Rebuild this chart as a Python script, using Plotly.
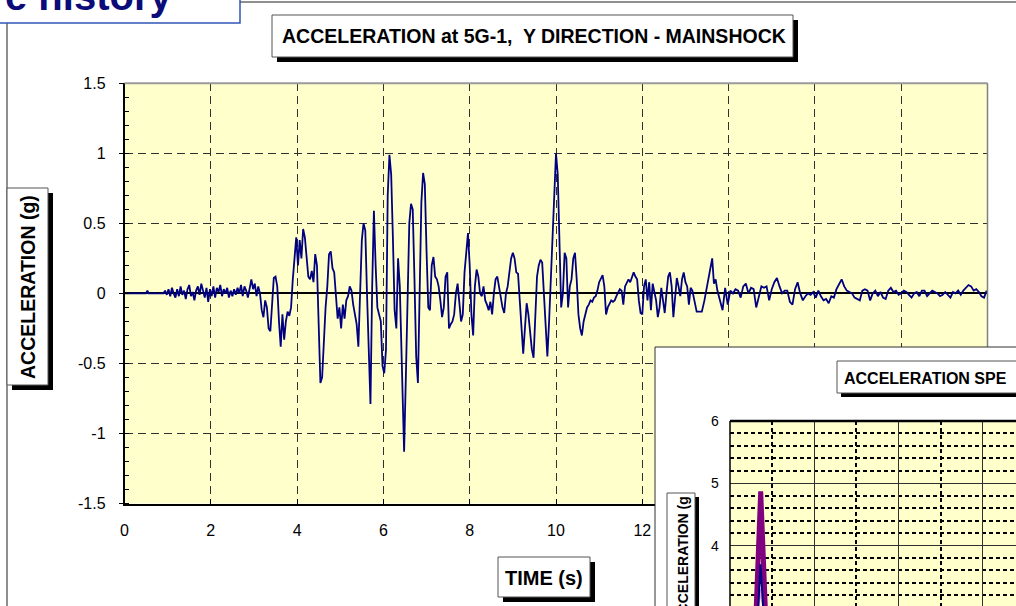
import plotly.graph_objects as go

W, H = 1016, 606

def px(x):
    return x / W

def py(y):
    return 1 - y / H

# ---------------- data ----------------
time_s = [
    0.00, 0.50, 0.53, 0.56, 0.90,
    0.94, 0.98, 1.02, 1.06, 1.10, 1.14, 1.18, 1.22, 1.26, 1.30, 1.34, 1.38, 1.42, 1.46, 1.50,
    1.54, 1.58, 1.62, 1.66, 1.70, 1.74, 1.78, 1.82, 1.86, 1.90, 1.94, 1.98, 2.02, 2.06, 2.10,
    2.14, 2.18, 2.22, 2.26, 2.30, 2.34, 2.38, 2.42, 2.46, 2.50, 2.54, 2.58, 2.62, 2.66, 2.70,
    2.74, 2.78, 2.82, 2.86, 2.90, 2.94, 2.98, 3.02, 3.06, 3.10, 3.14,
    3.18, 3.22, 3.26, 3.30, 3.34, 3.38, 3.42, 3.46, 3.50, 3.54, 3.58, 3.62, 3.66, 3.70, 3.74,
    3.78, 3.82, 3.86, 3.90, 3.94, 3.98, 4.02, 4.06, 4.10, 4.14, 4.18, 4.22, 4.26, 4.30, 4.34,
    4.38, 4.42, 4.46, 4.50, 4.54, 4.58, 4.62, 4.66, 4.70, 4.74, 4.78, 4.82, 4.86, 4.90, 4.94,
    4.98, 5.02, 5.06, 5.10, 5.14, 5.18, 5.22, 5.26, 5.30, 5.34, 5.38, 5.42, 5.46, 5.50, 5.54,
    5.58, 5.62, 5.66, 5.70, 5.74, 5.78, 5.82, 5.86, 5.90, 5.94, 5.98, 6.02, 6.06, 6.10, 6.14,
    6.18, 6.22, 6.26, 6.30, 6.34, 6.38, 6.42, 6.46, 6.48, 6.52, 6.56, 6.60, 6.64, 6.68, 6.72,
    6.76, 6.80, 6.84, 6.88, 6.92, 6.96, 7.00, 7.04, 7.08, 7.12, 7.16, 7.20, 7.24, 7.28, 7.32,
    7.36, 7.40, 7.44, 7.48, 7.52, 7.56, 7.60, 7.64, 7.68, 7.72, 7.76, 7.80, 7.84, 7.88, 7.92,
    7.96, 8.00, 8.04, 8.08, 8.12, 8.16, 8.20, 8.24, 8.28, 8.32, 8.36, 8.40, 8.44, 8.48, 8.52,
    8.56, 8.60, 8.64, 8.68, 8.72, 8.76, 8.80, 8.84, 8.88, 8.92, 8.96, 9.00, 9.04, 9.08, 9.12,
    9.16, 9.20, 9.24, 9.28, 9.32, 9.36, 9.40, 9.44, 9.48, 9.52, 9.56, 9.60, 9.64, 9.68, 9.72,
    9.76, 9.80, 9.84, 9.88, 9.92, 9.96, 10.00, 10.04, 10.08, 10.12, 10.16, 10.20, 10.24, 10.28,
    10.32, 10.36, 10.40, 10.44, 10.48, 10.52, 10.56, 10.60, 10.64, 10.68, 10.72, 10.76, 10.80,
    10.84, 10.88, 10.92, 10.96, 11.00, 11.04, 11.08, 11.12, 11.16, 11.20, 11.24, 11.28, 11.32,
    11.36, 11.40, 11.44, 11.48, 11.52, 11.56, 11.60, 11.64, 11.68, 11.72, 11.76, 11.80, 11.84,
    11.88, 11.92, 11.96, 12.00, 12.04, 12.08, 12.12, 12.16, 12.20, 12.24, 12.28, 12.32, 12.36,
    12.40, 12.44, 12.48, 12.52, 12.56, 12.60, 12.64, 12.68, 12.72, 12.76, 12.80, 12.84, 12.88,
    12.92, 12.96, 13.00, 13.04, 13.08, 13.12, 13.16, 13.20, 13.26, 13.32, 13.38, 13.44, 13.50,
    13.56, 13.62, 13.66, 13.70, 13.74, 13.80, 13.86, 13.92, 13.98, 14.04, 14.10, 14.16, 14.22,
    14.28, 14.34, 14.40, 14.46, 14.52, 14.58, 14.64, 14.70, 14.76, 14.82, 14.88, 14.94, 15.00,
    15.06, 15.12, 15.18, 15.24, 15.30, 15.36, 15.42, 15.48, 15.54, 15.60, 15.66, 15.72, 15.78,
    15.84, 15.90, 15.96, 16.02, 16.08, 16.14, 16.20, 16.26, 16.32, 16.38, 16.44, 16.50, 16.56,
    16.62, 16.68, 16.74, 16.80, 16.86, 16.92, 16.98, 17.04, 17.10, 17.16, 17.22, 17.28, 17.34,
    17.40, 17.46, 17.52, 17.58, 17.64, 17.70, 17.76, 17.82, 17.88, 17.94, 18.00, 18.06, 18.12,
    18.18, 18.24, 18.30, 18.36, 18.42, 18.48, 18.54, 18.60, 18.66, 18.72, 18.78, 18.84, 18.90,
    18.96, 19.02, 19.08, 19.14, 19.20, 19.26, 19.32, 19.38, 19.44, 19.50, 19.56, 19.62, 19.68,
    19.74, 19.80, 19.86, 19.92, 19.98,
]
accel_g = [
    0.00, 0.00, 0.02, 0.00, 0.00,
    0.02, -0.01, 0.03, -0.02, 0.04, 0.00, -0.03, 0.03, -0.02, 0.05, -0.01, 0.02, -0.04, 0.03, 0.06,
    -0.02, 0.01, -0.05, 0.02, 0.05, -0.01, 0.07, 0.02, -0.03, 0.04, -0.06, 0.03, -0.02, 0.05, -0.03,
    0.04, 0.01, 0.06, -0.02, 0.03, 0.00, 0.04, -0.03, 0.02, -0.02, 0.03, -0.01, 0.04, 0.00, 0.06,
    -0.02, 0.05, 0.02, -0.03, 0.04, 0.10, 0.03, 0.07, -0.02, 0.05, 0.00,
    -0.12, -0.17, -0.05, -0.10, -0.25, -0.27, -0.05, 0.11, 0.12, 0.05, -0.20, -0.38, -0.15, -0.33, -0.20,
    -0.13, -0.16, -0.10, 0.10, 0.25, 0.40, 0.20, 0.38, 0.25, 0.46, 0.40, 0.25, 0.12, 0.10, 0.16,
    0.08, 0.28, 0.20, -0.20, -0.64, -0.60, -0.30, -0.10, 0.05, 0.28, 0.30, 0.18, 0.15, -0.05, -0.18,
    -0.10, -0.25, -0.08, -0.18, -0.05, -0.02, 0.05, 0.02, -0.08, -0.15, -0.22, -0.38, 0.10, 0.38, 0.50,
    0.45, 0.00, -0.45, -0.79, 0.05, 0.59, 0.20, -0.10, -0.15, -0.20, -0.52, -0.57, -0.40, 0.70, 0.99,
    0.85, 0.40, -0.12, -0.25, 0.25, 0.05, -0.45, -1.00, -1.13, -0.60, 0.00, 0.50, 0.64, 0.60, 0.10,
    -0.45, -0.64, -0.10, 0.65, 0.86, 0.78, 0.30, -0.10, -0.12, 0.20, 0.26, 0.12, 0.10, 0.05, -0.05,
    -0.17, -0.10, 0.12, 0.15, -0.25, -0.22, -0.20, -0.15, 0.00, 0.07, -0.10, -0.20, -0.15, 0.15, 0.29,
    0.43, 0.20, -0.15, -0.30, 0.05, 0.17, 0.12, 0.00, -0.02, 0.05, -0.05, -0.08, -0.12, -0.06, -0.15,
    0.00, 0.10, 0.12, 0.05, -0.05, -0.10, -0.14, 0.00, 0.05, 0.15, 0.25, 0.29, 0.25, 0.15, 0.14,
    -0.05, -0.25, -0.43, -0.25, -0.07, -0.15, -0.30, -0.40, -0.46, -0.20, 0.12, 0.20, 0.24, 0.22, 0.00,
    -0.30, -0.45, -0.20, 0.10, 0.38, 0.80, 1.00, 0.85, 0.40, -0.10, 0.00, 0.29, 0.25, -0.10,
    0.05, 0.10, 0.25, 0.29, 0.10, -0.15, -0.25, -0.30, -0.20, -0.15, -0.10, -0.08, -0.05,
    -0.06, -0.03, -0.02, 0.02, 0.08, 0.10, 0.13, 0.05, -0.15, -0.10, -0.08, -0.05, -0.06,
    -0.05, -0.02, 0.00, 0.03, 0.02, -0.08, 0.05, 0.08, 0.10, 0.08, 0.12, 0.15, 0.12,
    0.10, -0.05, -0.14, -0.15, 0.05, 0.10, -0.05, 0.08, -0.12, 0.07, 0.02, -0.05, -0.17,
    -0.10, 0.04, -0.05, -0.14, 0.00, 0.12, 0.15, 0.05, -0.17, 0.00, 0.11, 0.05, -0.02,
    0.10, 0.15, 0.08, 0.05, -0.08, 0.04, 0.02, -0.05, -0.13, -0.13, -0.13, -0.05, 0.05,
    0.15, 0.25, 0.07, 0.10, 0.02, -0.05, -0.12, 0.04, -0.08, 0.02, 0.00, 0.03, 0.02,
    -0.03, 0.05, 0.07, 0.00, 0.04, 0.03, -0.10, -0.02, 0.05, 0.04, 0.05, -0.05, 0.03,
    0.08, 0.11, 0.05, 0.00, 0.02, 0.02, -0.06, -0.08, 0.03, 0.08, 0.00, -0.05, -0.02,
    0.00, -0.01, 0.01, -0.03, 0.02, -0.02, -0.05, -0.04, -0.07, -0.02, -0.03, 0.03, 0.06,
    0.10, 0.05, 0.02, 0.01, 0.00, -0.03, -0.04, -0.05, 0.02, 0.03, 0.02, -0.05, 0.00,
    0.02, -0.02, 0.01, -0.03, -0.04, 0.02, 0.04, 0.01, 0.02, -0.01, 0.00, 0.02, 0.01,
    -0.01, -0.03, 0.00, 0.01, -0.02, 0.02, 0.02, -0.02, 0.00, 0.02, 0.01, 0.00, -0.02,
    -0.01, 0.01, -0.01, -0.03, 0.01, 0.00, 0.02, -0.01, 0.02, 0.04, 0.06, 0.05, 0.02,
    0.03, 0.01, -0.02, -0.03, 0.02,
]

x_tick_vals = [0, 2, 4, 6, 8, 10, 12, 14, 16, 18, 20]
x_tick_text = ["0", "2", "4", "6", "8", "10", "12", "14", "16", "18", "20"]
y_tick_vals = [-1.5, -1.0, -0.5, 0.0, 0.5, 1.0, 1.5]
y_tick_text = ["-1.5", "-1", "-0.5", "0", "0.5", "1", "1.5"]

# inset spectrum (only the visible part of the spike)
spec_period_purple = [0.150, 0.158, 0.182, 0.208, 0.216]
spec_accel_purple = [2.60, 3.09, 4.87, 3.09, 2.60]
spec_period_blue = [0.160, 0.168, 0.181, 0.197, 0.205]
spec_accel_blue = [2.60, 3.00, 3.70, 3.00, 2.60]
spec_period_pink = [0.150, 0.160, 0.181, 0.205, 0.215]
spec_accel_pink = [2.60, 2.95, 3.30, 2.95, 2.60]
inset_y_vals = [4, 5, 6]
inset_y_text = ["4", "5", "6"]

FONT = "Liberation Sans, Arial, sans-serif"
YELLOW = "#FFFFCC"

fig = go.Figure()
fig.add_trace(go.Scatter(x=time_s, y=accel_g, mode="lines",
                         line=dict(color="#000080", width=1.8),
                         showlegend=False, hoverinfo="skip"))
fig.add_trace(go.Scatter(x=spec_period_pink, y=spec_accel_pink, mode="lines",
                         line=dict(color="#E6A0DC", width=3),
                         xaxis="x2", yaxis="y2", showlegend=False))
fig.add_trace(go.Scatter(x=spec_period_purple, y=spec_accel_purple, mode="lines",
                         line=dict(color="#800080", width=5),
                         xaxis="x2", yaxis="y2", showlegend=False))
fig.add_trace(go.Scatter(x=spec_period_blue, y=spec_accel_blue, mode="lines",
                         line=dict(color="#000080", width=2),
                         xaxis="x2", yaxis="y2", showlegend=False))

main_x0, main_x1, main_y0, main_y1 = 124.5, 987.5, 83.3, 503.5
ins_x0, ins_y0 = 730, 421

fig.update_layout(
    template="none",
    width=W, height=H,
    margin=dict(l=0, r=0, t=0, b=0, pad=0, autoexpand=False),
    paper_bgcolor="white",
    plot_bgcolor=YELLOW,
    font=dict(family=FONT, color="black"),
    xaxis=dict(domain=[px(main_x0), px(main_x1)], range=[0, 20], automargin=False,
               tickmode="array", tickvals=x_tick_vals, ticktext=x_tick_text,
               ticks="inside", ticklen=5, tickcolor="black",
               tickfont=dict(size=16), ticklabelstandoff=12,
               showgrid=True, gridcolor="#303030", griddash="8px,5px", gridwidth=1,
               showline=True, linecolor="black", linewidth=1.5, zeroline=False),
    yaxis=dict(domain=[py(main_y1), py(main_y0)], range=[-1.5, 1.5], automargin=False,
               tickmode="array", tickvals=y_tick_vals, ticktext=y_tick_text,
               ticks="outside", ticklen=4, tickcolor="black",
               tickfont=dict(size=16), ticklabelstandoff=10,
               minor=dict(tickmode="linear", tick0=-1.5, dtick=0.1, ticks="inside",
                          ticklen=5, tickcolor="black", showgrid=False),
               showgrid=True, gridcolor="#303030", griddash="8px,5px", gridwidth=1,
               showline=True, linecolor="black", linewidth=1.5,
               zeroline=True, zerolinecolor="black", zerolinewidth=2),
    xaxis2=dict(domain=[px(ins_x0), 1], range=[0, 0.5 * (W - ins_x0) / 84.3],
                anchor="y2", automargin=False, tickmode="linear", tick0=0, dtick=0.5,
                showticklabels=False, ticks="",
                showgrid=True, gridcolor="#303030", gridwidth=1,
                minor=dict(tickmode="linear", tick0=0, dtick=0.25, showgrid=True,
                           gridcolor="black", gridwidth=2, griddash="4px,3px"),
                showline=False, zeroline=False),
    yaxis2=dict(domain=[0, py(ins_y0)], range=[3.03, 6], anchor="x2", automargin=False,
                tickmode="linear", tick0=3, dtick=1, showticklabels=False,
                ticks="",
                showgrid=True, gridcolor="#303030", gridwidth=1,
                minor=dict(tickmode="linear", tick0=3, dtick=0.2, showgrid=True,
                           gridcolor="black", gridwidth=2, griddash="4px,3px"),
                showline=True, linecolor="black", linewidth=1.5, zeroline=False),
)

shapes = []

def rect(x0, y0, x1, y1, fill=None, line=None, lw=1, layer="above"):
    shapes.append(dict(type="rect", xref="paper", yref="paper",
                       x0=px(x0), x1=px(x1), y0=py(y1), y1=py(y0),
                       fillcolor=fill if fill else "rgba(0,0,0,0)",
                       line=dict(color=line if line else "rgba(0,0,0,0)", width=lw if line else 0),
                       layer=layer))

def hline(x0, x1, y, color, lw):
    shapes.append(dict(type="line", xref="paper", yref="paper",
                       x0=px(x0), x1=px(x1), y0=py(y), y1=py(y),
                       line=dict(color=color, width=lw), layer="above"))

def vline(x, y0, y1, color, lw):
    shapes.append(dict(type="line", xref="paper", yref="paper",
                       x0=px(x), x1=px(x), y0=py(y0), y1=py(y1),
                       line=dict(color=color, width=lw), layer="above"))

def shadow_box(x0, y0, x1, y1, off=5, border="#555555"):
    rect(x0 + off, y0 + off, x1 + off, y1 + off, fill="black")
    rect(x0, y0, x1, y1, fill="white", line=border, lw=1)

# outer chart frame
rect(7, 2, 1040, 650, line="#202020", lw=1, layer="below")
# main plot-area top/right border (grey)
hline(main_x0, main_x1, main_y0, "#9a9a9a", 2)
vline(main_x1, main_y0, 347, "#808080", 1.5)
# inset chart area (white) covering the main chart
rect(655, 347, 1040, ins_y0, fill="white")
rect(655, 347, ins_x0, 650, fill="white")
rect(655, 347, 1040, 650, line="#303030", lw=1)
hline(ins_x0, 1040, ins_y0, "black", 2.5)
vline(ins_x0, ins_y0, 650, "black", 1.5)
# title boxes
shadow_box(272, 15, 793, 57)
shadow_box(7, 188, 48, 385)
shadow_box(498, 557, 590, 597)
shadow_box(837, 361, 1040, 393, off=4)
shadow_box(667, 493, 695, 660, off=4)
# slide-title box at top-left
rect(-20, -20, 240, 23, fill="white", line="#2F55B5", lw=1.5)

fig.update_layout(shapes=shapes)

ann = []

def text(x, y, s, size, xanchor="center", yanchor="middle", angle=0, color="black", bold=True):
    ann.append(dict(xref="paper", yref="paper", x=px(x), y=py(y),
                    text=f"<b>{s}</b>" if bold else s, showarrow=False,
                    xanchor=xanchor, yanchor=yanchor, textangle=angle,
                    font=dict(family=FONT, size=size, color=color)))

text(534, 36, "ACCELERATION at 5G-1,  Y DIRECTION - MAINSHOCK", 19.5)
text(28, 287, "ACCELERATION (g)", 19.5, angle=-90)
text(544, 578, "TIME (s)", 20)
text(842, 378, "ACCELERATION SPE", 16, xanchor="left")
text(682, 495, "ACCELERATION (g", 14, yanchor="top", angle=-90)
text(174, -4, "e history", 40, xanchor="right", color="#0B0B7A")

# inset y tick labels, placed through the inset's y scale
for v, s in zip(inset_y_vals, inset_y_text):
    ann.append(dict(xref="paper", yref="y2", x=px(721), y=v, text=s, showarrow=False,
                    xanchor="right", yanchor="middle",
                    font=dict(family=FONT, size=14, color="black")))

fig.update_layout(annotations=ann)

fig.write_html("out.html", config={"displayModeBar": False},
               post_script="document.body.style.margin='0';document.body.style.overflow='hidden';")
